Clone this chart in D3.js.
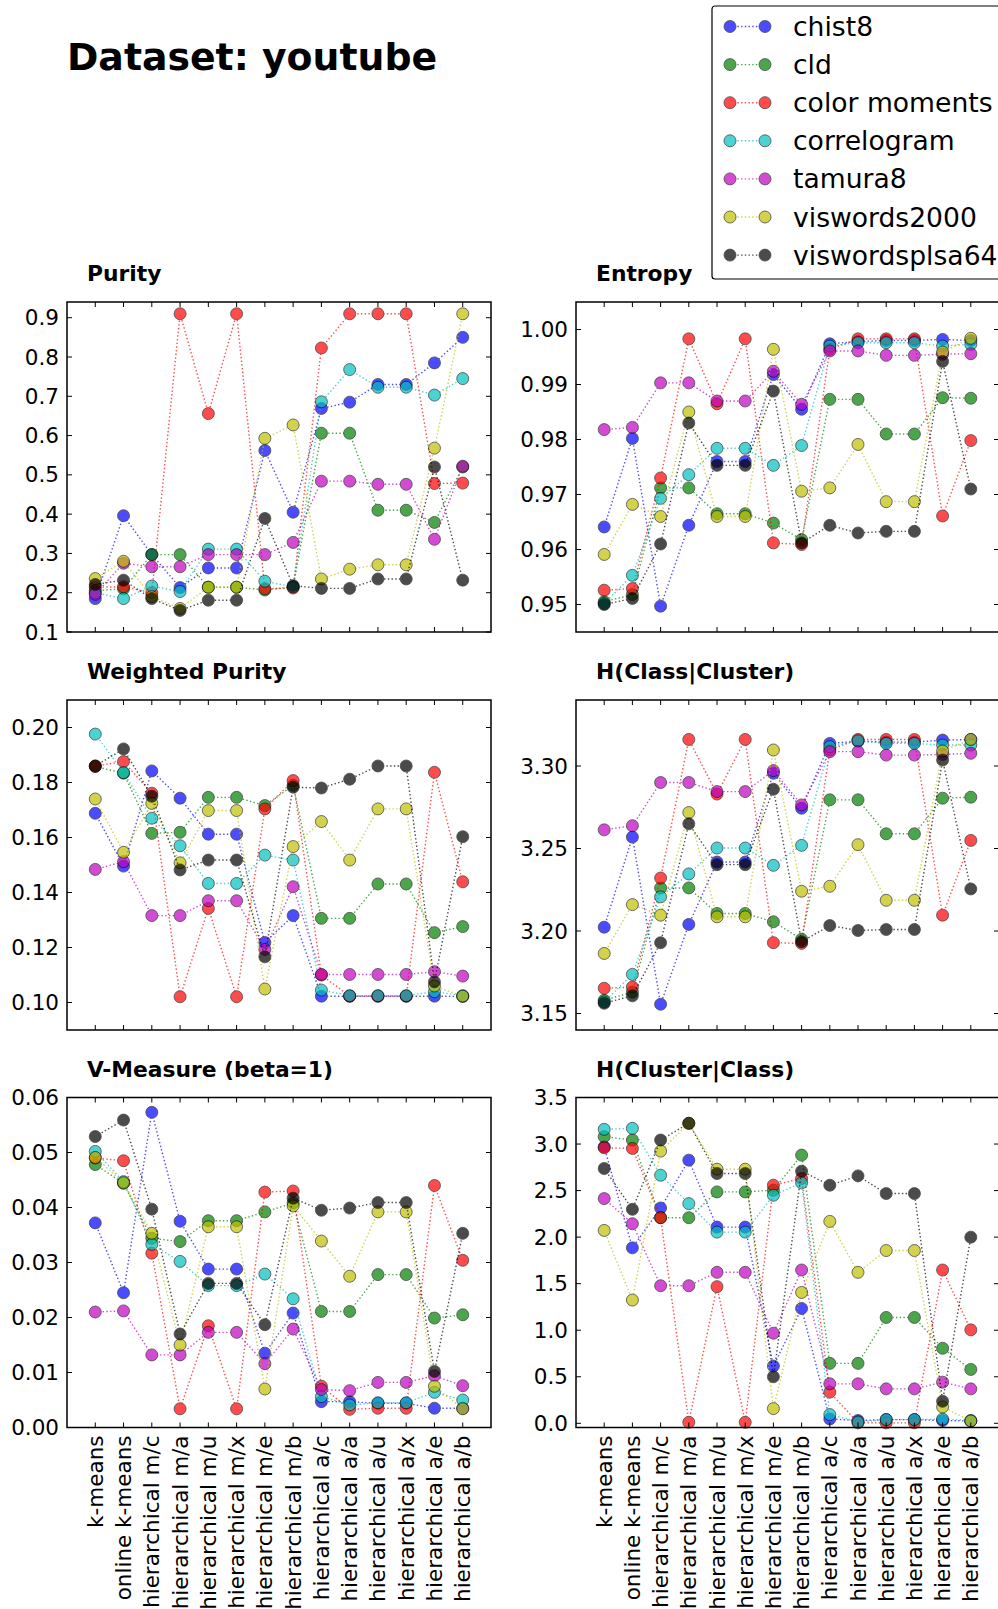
<!DOCTYPE html>
<html>
<head>
<meta charset="utf-8">
<script src="https://cdn.jsdelivr.net/npm/d3@7"></script>
<style>
  body { margin: 0; background: #fff; }
  svg { display: block; }
  text { font-family: "DejaVu Sans", sans-serif; fill: #000; }
</style>
</head>
<body>
<svg id="chart" width="998" height="1609"></svg>
<script>
// Clustering methods along the x axis
const methods = [
  "k-means", "online k-means",
  "hierarchical m/c", "hierarchical m/a", "hierarchical m/u", "hierarchical m/x",
  "hierarchical m/e", "hierarchical m/b",
  "hierarchical a/c", "hierarchical a/a", "hierarchical a/u", "hierarchical a/x",
  "hierarchical a/e", "hierarchical a/b"
];

// Feature sets (one series each)
const features = ["chist8", "cld", "color moments", "correlogram", "tamura8", "viswords2000", "viswordsplsa64"];
const featureColors = ["#0000ff", "#008000", "#ff0000", "#00bfbf", "#bf00bf", "#bfbf00", "#000000"];

// Rows follow the order of `features`
const purity = [
  [0.185, 0.396, 0.297, 0.213, 0.263, 0.263, 0.562, 0.405, 0.669, 0.685, 0.730, 0.730, 0.785, 0.850],
  [0.205, 0.210, 0.297, 0.297, 0.214, 0.214, 0.207, 0.215, 0.606, 0.606, 0.410, 0.410, 0.379, 0.520],
  [0.214, 0.215, 0.200, 0.910, 0.656, 0.910, 0.210, 0.212, 0.823, 0.910, 0.910, 0.910, 0.478, 0.479],
  [0.200, 0.185, 0.217, 0.203, 0.311, 0.311, 0.229, 0.215, 0.686, 0.768, 0.723, 0.723, 0.703, 0.745],
  [0.196, 0.275, 0.266, 0.266, 0.297, 0.297, 0.297, 0.328, 0.484, 0.484, 0.476, 0.476, 0.336, 0.522],
  [0.236, 0.280, 0.190, 0.160, 0.214, 0.214, 0.593, 0.627, 0.235, 0.260, 0.271, 0.271, 0.568, 0.910],
  [0.221, 0.232, 0.185, 0.155, 0.181, 0.181, 0.389, 0.218, 0.211, 0.211, 0.235, 0.235, 0.520, 0.232]
];

const entropy = [
  [0.9641, 0.9802, 0.9497, 0.9644, 0.9760, 0.9760, 0.9918, 0.9855, 0.9974, 0.9978, 0.9980, 0.9980, 0.9982, 0.9980],
  [0.9505, 0.9518, 0.9712, 0.9712, 0.9665, 0.9665, 0.9648, 0.9618, 0.9873, 0.9873, 0.9810, 0.9810, 0.9876, 0.9875],
  [0.9526, 0.9529, 0.9730, 0.9983, 0.9865, 0.9983, 0.9612, 0.9609, 0.9964, 0.9983, 0.9983, 0.9983, 0.9661, 0.9798],
  [0.9502, 0.9553, 0.9693, 0.9736, 0.9784, 0.9784, 0.9753, 0.9789, 0.9970, 0.9976, 0.9976, 0.9976, 0.9970, 0.9973],
  [0.9818, 0.9822, 0.9903, 0.9903, 0.9870, 0.9870, 0.9924, 0.9864, 0.9961, 0.9961, 0.9953, 0.9953, 0.9955, 0.9956],
  [0.9591, 0.9682, 0.9660, 0.9850, 0.9660, 0.9660, 0.9964, 0.9706, 0.9712, 0.9791, 0.9687, 0.9687, 0.9959, 0.9984],
  [0.9500, 0.9511, 0.9610, 0.9830, 0.9753, 0.9753, 0.9888, 0.9612, 0.9644, 0.9630, 0.9633, 0.9633, 0.9942, 0.9710]
];

const weightedPurity = [
  [0.1688, 0.1496, 0.1842, 0.1743, 0.1612, 0.1612, 0.1218, 0.1316, 0.1023, 0.1023, 0.1023, 0.1023, 0.1023, 0.1022],
  [0.1858, 0.1834, 0.1615, 0.1619, 0.1746, 0.1746, 0.1716, 0.1790, 0.1306, 0.1306, 0.1431, 0.1431, 0.1254, 0.1276],
  [0.1860, 0.1876, 0.1761, 0.1021, 0.1342, 0.1021, 0.1704, 0.1807, 0.1100, 0.1023, 0.1023, 0.1023, 0.1837, 0.1439],
  [0.1976, 0.1836, 0.1670, 0.1570, 0.1433, 0.1433, 0.1536, 0.1518, 0.1045, 0.1025, 0.1025, 0.1025, 0.1039, 0.1025],
  [0.1484, 0.1512, 0.1316, 0.1316, 0.1370, 0.1370, 0.1193, 0.1421, 0.1102, 0.1102, 0.1102, 0.1102, 0.1112, 0.1096],
  [0.1740, 0.1546, 0.1724, 0.1508, 0.1698, 0.1698, 0.1049, 0.1567, 0.1658, 0.1518, 0.1704, 0.1704, 0.1060, 0.1023],
  [0.1860, 0.1922, 0.1750, 0.1482, 0.1518, 0.1518, 0.1166, 0.1783, 0.1780, 0.1812, 0.1860, 0.1860, 0.1075, 0.1603]
];

const hClassCluster = [
  [3.2023, 3.2569, 3.1556, 3.2040, 3.2418, 3.2418, 3.2956, 3.2744, 3.3137, 3.3150, 3.3145, 3.3145, 3.3157, 3.3160],
  [3.1580, 3.1630, 3.2261, 3.2261, 3.2106, 3.2106, 3.2056, 3.1950, 3.2795, 3.2795, 3.2589, 3.2589, 3.2805, 3.2811],
  [3.1653, 3.1660, 3.2321, 3.3161, 3.2830, 3.3161, 3.1929, 3.1925, 3.3097, 3.3161, 3.3161, 3.3161, 3.2096, 3.2549],
  [3.1570, 3.1737, 3.2207, 3.2346, 3.2503, 3.2503, 3.2398, 3.2519, 3.3117, 3.3153, 3.3137, 3.3137, 3.3127, 3.3127],
  [3.2613, 3.2638, 3.2900, 3.2900, 3.2845, 3.2845, 3.2972, 3.2764, 3.3087, 3.3087, 3.3066, 3.3066, 3.3070, 3.3077],
  [3.1864, 3.2160, 3.2096, 3.2718, 3.2086, 3.2086, 3.3097, 3.2241, 3.2271, 3.2523, 3.2186, 3.2186, 3.3091, 3.3161],
  [3.1562, 3.1607, 3.1929, 3.2650, 3.2402, 3.2402, 3.2859, 3.1935, 3.2033, 3.2003, 3.2009, 3.2009, 3.3036, 3.2255]
];

const vMeasure = [
  [0.0372, 0.0245, 0.0573, 0.0375, 0.0288, 0.0288, 0.0135, 0.0208, 0.0047, 0.0047, 0.0044, 0.0044, 0.0035, 0.0035],
  [0.0478, 0.0444, 0.0344, 0.0338, 0.0376, 0.0376, 0.0392, 0.0408, 0.0211, 0.0211, 0.0278, 0.0278, 0.0199, 0.0205],
  [0.0490, 0.0485, 0.0317, 0.0034, 0.0185, 0.0034, 0.0428, 0.0430, 0.0075, 0.0033, 0.0035, 0.0035, 0.0440, 0.0304],
  [0.0502, 0.0447, 0.0333, 0.0302, 0.0258, 0.0258, 0.0279, 0.0234, 0.0056, 0.0041, 0.0045, 0.0045, 0.0064, 0.0050],
  [0.0210, 0.0212, 0.0132, 0.0132, 0.0173, 0.0173, 0.0116, 0.0179, 0.0069, 0.0067, 0.0082, 0.0082, 0.0094, 0.0076],
  [0.0491, 0.0445, 0.0353, 0.0150, 0.0365, 0.0365, 0.0070, 0.0403, 0.0339, 0.0275, 0.0392, 0.0392, 0.0075, 0.0034],
  [0.0529, 0.0559, 0.0397, 0.0170, 0.0262, 0.0262, 0.0187, 0.0417, 0.0395, 0.0399, 0.0409, 0.0409, 0.0102, 0.0353]
];

const hClusterClass = [
  [2.970, 1.885, 2.313, 2.827, 2.108, 2.108, 0.615, 1.234, 0.047, 0.030, 0.040, 0.040, 0.030, 0.025],
  [3.079, 3.043, 2.209, 2.209, 2.486, 2.486, 2.504, 2.881, 0.644, 0.644, 1.137, 1.137, 0.806, 0.579],
  [2.960, 2.953, 2.209, 0.011, 1.468, 0.011, 2.558, 2.630, 0.335, 0.005, 0.005, 0.005, 1.647, 1.004],
  [3.158, 3.169, 2.665, 2.360, 2.054, 2.054, 2.450, 2.583, 0.094, 0.015, 0.040, 0.040, 0.045, 0.030],
  [2.414, 2.144, 1.478, 1.478, 1.622, 1.622, 0.968, 1.647, 0.424, 0.424, 0.370, 0.370, 0.442, 0.370],
  [2.072, 1.324, 2.924, 3.223, 2.730, 2.730, 0.158, 1.406, 2.169, 1.622, 1.856, 1.856, 0.176, 0.025],
  [2.737, 2.299, 3.043, 3.223, 2.683, 2.683, 0.500, 2.709, 2.558, 2.658, 2.468, 2.468, 0.237, 2.000]
];

// Y tick values per panel
const purityTicks = [0.1, 0.2, 0.3, 0.4, 0.5, 0.6, 0.7, 0.8, 0.9];
const entropyTicks = [0.95, 0.96, 0.97, 0.98, 0.99, 1.00];
const weightedPurityTicks = [0.10, 0.12, 0.14, 0.16, 0.18, 0.20];
const hClassClusterTicks = [3.15, 3.20, 3.25, 3.30];
const vMeasureTicks = [0.00, 0.01, 0.02, 0.03, 0.04, 0.05, 0.06];
const hClusterClassTicks = [0.0, 0.5, 1.0, 1.5, 2.0, 2.5, 3.0, 3.5];

const panels = [
  { title: "Purity", values: purity, ticks: purityTicks, domain: [0.1, 0.94], fmt: ".1f", col: 0, row: 0 },
  { title: "Entropy", values: entropy, ticks: entropyTicks, domain: [0.945, 1.005], fmt: ".2f", col: 1, row: 0 },
  { title: "Weighted Purity", values: weightedPurity, ticks: weightedPurityTicks, domain: [0.09, 0.21], fmt: ".2f", col: 0, row: 1 },
  { title: "H(Class|Cluster)", values: hClassCluster, ticks: hClassClusterTicks, domain: [3.14, 3.34], fmt: ".2f", col: 1, row: 1 },
  { title: "V-Measure (beta=1)", values: vMeasure, ticks: vMeasureTicks, domain: [0, 0.06], fmt: ".2f", col: 0, row: 2 },
  { title: "H(Cluster|Class)", values: hClusterClass, ticks: hClusterClassTicks, domain: [-0.045, 3.5], fmt: ".1f", col: 1, row: 2 }
];

// Layout
const colX = [67, 576];
const colW = [424, 423];
const rowY = [302, 700, 1097.5];
const rowH = 330;
const tickLen = 5;
const markerR = 6;
const tickFont = "21.5px";
const titleFont = "21.8px";

const svg = d3.select("#chart");

svg.append("text")
  .attr("x", 67).attr("y", 70)
  .style("font-size", "37.8px").style("font-weight", "bold")
  .text("Dataset: youtube");

panels.forEach(p => {
  const x0 = colX[p.col], w = colW[p.col];
  const y0 = rowY[p.row], h = rowH;
  const x = d3.scaleLinear().domain([-1, methods.length]).range([x0, x0 + w]);
  const y = d3.scaleLinear().domain(p.domain).range([y0 + h, y0]);
  const g = svg.append("g");

  g.append("rect").attr("x", x0).attr("y", y0).attr("width", w).attr("height", h).attr("fill", "#fff");

  // series: dotted line then markers, drawn in order so later series sit on top
  const line = d3.line().x((d, i) => x(i)).y(d => y(d));
  p.values.forEach((vals, s) => {
    const sg = g.append("g").attr("opacity", 0.7);
    sg.append("path")
      .attr("d", line(vals))
      .attr("fill", "none")
      .attr("stroke", featureColors[s])
      .attr("stroke-width", 1.4)
      .attr("stroke-dasharray", "1.4,2.3");
    sg.selectAll("circle").data(vals).join("circle")
      .attr("cx", (d, i) => x(i))
      .attr("cy", d => y(d))
      .attr("r", markerR)
      .attr("fill", featureColors[s])
      .attr("stroke", "#000")
      .attr("stroke-width", 0.8);
  });

  // inward ticks on all four sides
  const xt = d3.range(methods.length);
  g.selectAll(".xtb").data(xt).join("line")
    .attr("x1", d => x(d)).attr("x2", d => x(d))
    .attr("y1", y0 + h).attr("y2", y0 + h - tickLen)
    .attr("stroke", "#000").attr("stroke-width", 1);
  g.selectAll(".xtt").data(xt).join("line")
    .attr("x1", d => x(d)).attr("x2", d => x(d))
    .attr("y1", y0).attr("y2", y0 + tickLen)
    .attr("stroke", "#000").attr("stroke-width", 1);
  g.selectAll(".ytl").data(p.ticks).join("line")
    .attr("x1", x0).attr("x2", x0 + tickLen)
    .attr("y1", d => y(d)).attr("y2", d => y(d))
    .attr("stroke", "#000").attr("stroke-width", 1);
  g.selectAll(".ytr").data(p.ticks).join("line")
    .attr("x1", x0 + w).attr("x2", x0 + w - tickLen)
    .attr("y1", d => y(d)).attr("y2", d => y(d))
    .attr("stroke", "#000").attr("stroke-width", 1);

  // frame
  g.append("rect").attr("x", x0).attr("y", y0).attr("width", w).attr("height", h)
    .attr("fill", "none").attr("stroke", "#000").attr("stroke-width", 1.5);

  // y tick labels
  const fmt = d3.format(p.fmt);
  g.selectAll(".ylab").data(p.ticks).join("text")
    .attr("x", x0 - 8).attr("y", d => y(d))
    .attr("text-anchor", "end").attr("dominant-baseline", "central")
    .style("font-size", tickFont)
    .text(d => fmt(d));

  // x tick labels on the bottom row only
  if (p.row === 2) {
    g.selectAll(".xlab").data(methods).join("text")
      .attr("transform", (d, i) => `translate(${x(i)},${y0 + h + 8}) rotate(-90)`)
      .attr("text-anchor", "end").attr("dy", "0.35em")
      .style("font-size", tickFont)
      .text(d => d);
  }

  // panel title
  g.append("text")
    .attr("x", x0 + 20).attr("y", y0 - 21)
    .style("font-size", titleFont).style("font-weight", "bold")
    .text(p.title);
});

// legend
const lg = svg.append("g");
lg.append("rect").attr("x", 712).attr("y", 6).attr("width", 300).attr("height", 273)
  .attr("rx", 3).attr("fill", "#fff").attr("stroke", "#000").attr("stroke-width", 1.2);
features.forEach((name, s) => {
  const cy = 26.5 + s * 38.1;
  const eg = lg.append("g").attr("opacity", 0.7);
  eg.append("line").attr("x1", 730).attr("x2", 765).attr("y1", cy).attr("y2", cy)
    .attr("stroke", featureColors[s]).attr("stroke-width", 1.4).attr("stroke-dasharray", "1.4,2.3");
  [730, 765].forEach(cx => eg.append("circle").attr("cx", cx).attr("cy", cy).attr("r", markerR)
    .attr("fill", featureColors[s]).attr("stroke", "#000").attr("stroke-width", 0.8));
  lg.append("text").attr("x", 793).attr("y", cy).attr("dominant-baseline", "central")
    .style("font-size", "26.6px").text(name);
});
</script>
</body>
</html>
